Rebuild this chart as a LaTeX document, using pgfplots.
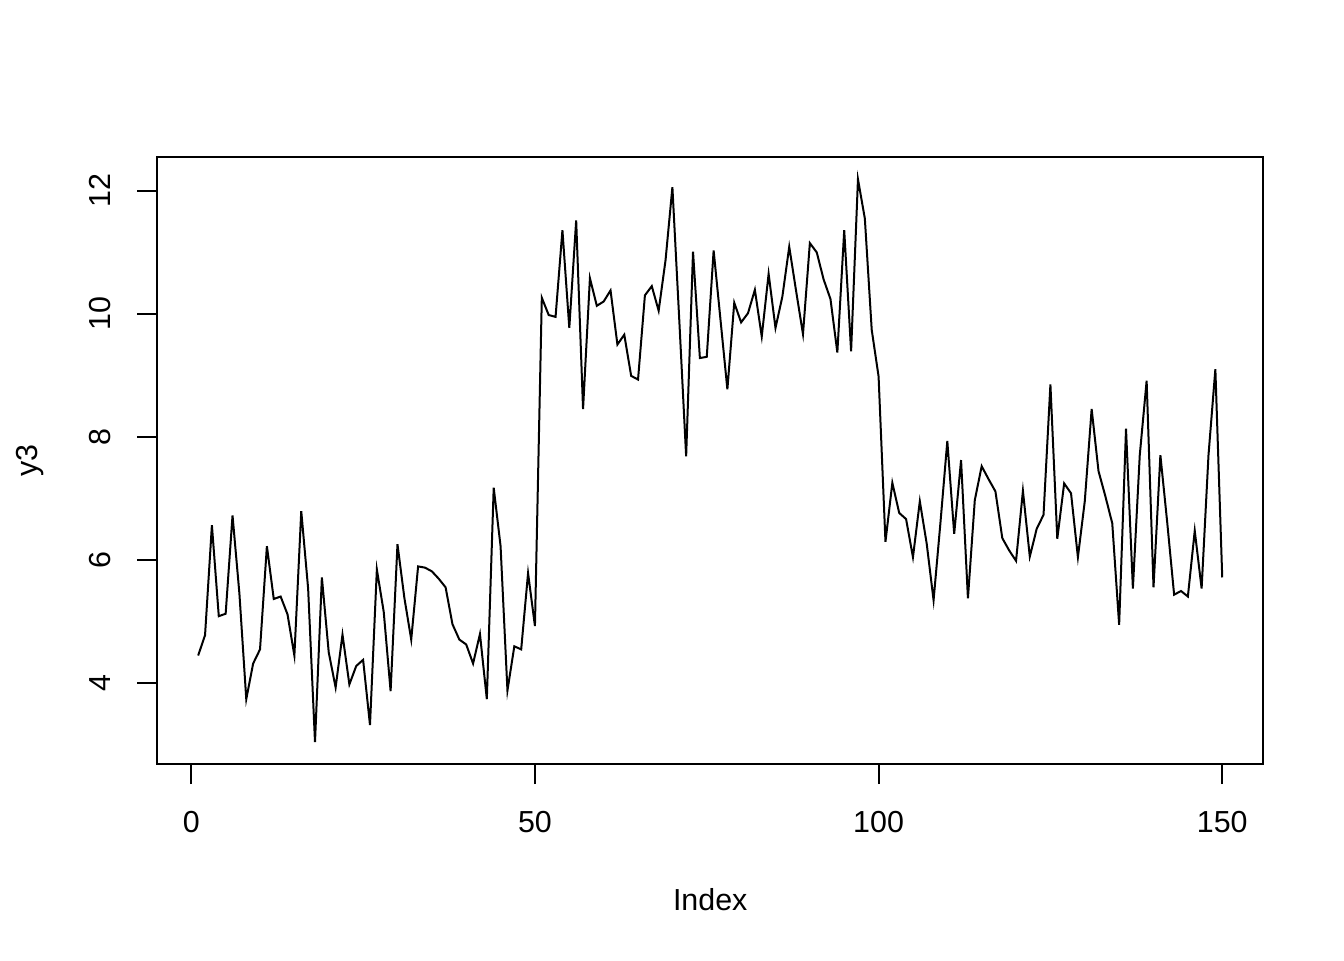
\documentclass[border=0pt]{standalone}
\usepackage{fontspec}
\setmainfont{Liberation Sans}
\usepackage{pgfplots}
\pgfplotsset{compat=1.18}
\usepackage{pgfplotstable}
\pgfplotstableread{
i y
1 4.44
2 4.77
3 6.56
4 5.08
5 5.12
6 6.72
7 5.45
8 3.73
9 4.31
10 4.54
11 6.22
12 5.36
13 5.40
14 5.11
15 4.44
16 6.79
17 5.53
18 3.03
19 5.71
20 4.49
21 3.92
22 4.78
23 3.97
24 4.27
25 4.37
26 3.31
27 5.84
28 5.15
29 3.86
30 6.25
31 5.38
32 4.70
33 5.89
34 5.87
35 5.81
36 5.69
37 5.55
38 4.95
39 4.70
40 4.62
41 4.31
42 4.79
43 3.73
44 7.17
45 6.22
46 3.87
47 4.59
48 4.54
49 5.78
50 4.92
51 10.26
52 9.98
53 9.95
54 11.36
55 9.77
56 11.52
57 8.45
58 10.58
59 10.13
60 10.20
61 10.38
62 9.50
63 9.66
64 8.99
65 8.93
66 10.30
67 10.45
68 10.05
69 10.87
70 12.06
71 9.90
72 7.68
73 11.01
74 9.28
75 9.30
76 11.03
77 9.90
78 8.77
79 10.18
80 9.86
81 10.01
82 10.39
83 9.63
84 10.65
85 9.77
86 10.28
87 11.09
88 10.37
89 9.67
90 11.15
91 11.00
92 10.56
93 10.24
94 9.37
95 11.36
96 9.39
97 12.19
98 11.55
99 9.74
100 8.98
101 6.29
102 7.25
103 6.76
104 6.66
105 6.04
106 6.95
107 6.26
108 5.34
109 6.60
110 7.93
111 6.42
112 7.62
113 5.37
114 6.97
115 7.52
116 7.31
117 7.11
118 6.35
119 6.15
120 5.98
121 7.12
122 6.05
123 6.50
124 6.73
125 8.85
126 6.34
127 7.24
128 7.08
129 6.04
130 6.95
131 8.45
132 7.44
133 7.03
134 6.59
135 4.94
136 8.13
137 5.53
138 7.70
139 8.91
140 5.55
141 7.70
142 6.60
143 5.43
144 5.49
145 5.40
146 6.47
147 5.53
148 7.70
149 9.10
150 5.71
}\ythree
\begin{document}
\fontsize{11.4pt}{13pt}\selectfont
\begin{tikzpicture}
\useasboundingbox (0,0) rectangle (504pt,360pt);
\begin{axis}[
  at={(58.95pt,73.5pt)}, anchor=south west,
  scale only axis,
  width=414.75pt, height=227.6pt,
  xmin=-4.96, xmax=155.96,
  ymin=2.675, ymax=12.55,
  xtick={0,50,100,150},
  ytick={4,6,8,10,12},
  tick align=outside,
  major tick length=7.5pt,
  axis line style={line width=0.75pt},
  every tick/.style={black, line width=0.75pt},
  xtick pos=bottom, ytick pos=left,
  /pgf/number format/assume math mode=true,
  ticklabel style={font=\fontsize{11.4pt}{13pt}\selectfont},
  xticklabel style={anchor=center, yshift=-14.4pt},
  yticklabel style={rotate=90, anchor=center, yshift=13.9pt},
  xlabel={Index}, ylabel={y3},
  label style={font=\fontsize{11.4pt}{13pt}\selectfont},
  xlabel style={at={(axis description cs:0.5,0)}, anchor=center, yshift=-51pt},
  ylabel style={at={(axis description cs:0,0.5)}, anchor=center, yshift=47.6pt},
]
\addplot[black, line width=0.75pt, line join=miter, mark=none] table[x=i, y=y] {\ythree};
\end{axis}
\end{tikzpicture}
\end{document}
